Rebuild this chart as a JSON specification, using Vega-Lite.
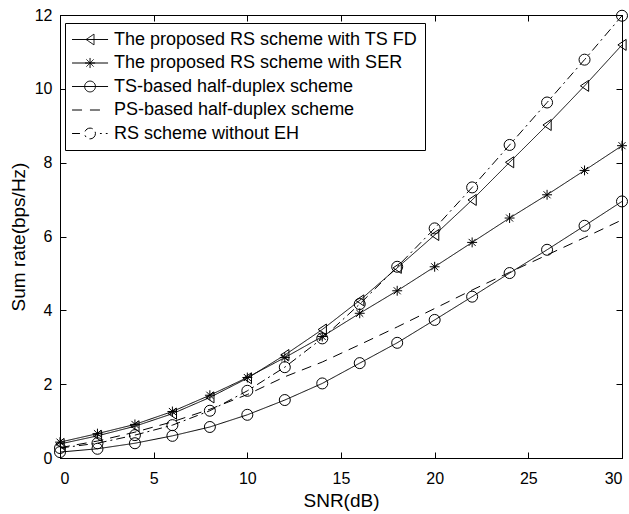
{
  "$schema": "https://vega.github.io/schema/vega-lite/v6.json",
  "width": 562,
  "height": 443,
  "autosize": "none",
  "padding": {"left": 60, "top": 15, "right": 7, "bottom": 56},
  "background": "white",
  "config": {
    "view": {"stroke": "black", "strokeWidth": 1},
    "font": "Liberation Sans",
    "axis": {
      "grid": false,
      "domainColor": "black",
      "tickColor": "black",
      "labelColor": "black",
      "titleColor": "black",
      "labelFont": "Liberation Sans",
      "titleFont": "Liberation Sans",
      "labelFontSize": 16,
      "titleFontSize": 19,
      "titleFontWeight": "normal",
      "tickSize": -6
    },
    "legend": {
      "labelFont": "Liberation Sans",
      "labelFontSize": 18,
      "labelColor": "black",
      "labelLimit": 0
    }
  },
  "resolve": {"axis": {"x": "independent", "y": "independent"}},
  "data": {
    "values": [
      {"snr": 0, "The proposed RS scheme with TS FD": 0.38, "The proposed RS scheme with SER": 0.43, "TS-based half-duplex scheme": 0.16, "PS-based half-duplex scheme": 0.28, "RS scheme without EH": 0.27},
      {"snr": 2, "The proposed RS scheme with TS FD": 0.6, "The proposed RS scheme with SER": 0.66, "TS-based half-duplex scheme": 0.25, "PS-based half-duplex scheme": 0.46, "RS scheme without EH": 0.4},
      {"snr": 4, "The proposed RS scheme with TS FD": 0.86, "The proposed RS scheme with SER": 0.91, "TS-based half-duplex scheme": 0.4, "PS-based half-duplex scheme": 0.7, "RS scheme without EH": 0.62},
      {"snr": 6, "The proposed RS scheme with TS FD": 1.2, "The proposed RS scheme with SER": 1.26, "TS-based half-duplex scheme": 0.6, "PS-based half-duplex scheme": 0.98, "RS scheme without EH": 0.89},
      {"snr": 8, "The proposed RS scheme with TS FD": 1.64, "The proposed RS scheme with SER": 1.7, "TS-based half-duplex scheme": 0.84, "PS-based half-duplex scheme": 1.32, "RS scheme without EH": 1.28},
      {"snr": 10, "The proposed RS scheme with TS FD": 2.16, "The proposed RS scheme with SER": 2.18, "TS-based half-duplex scheme": 1.17, "PS-based half-duplex scheme": 1.72, "RS scheme without EH": 1.82},
      {"snr": 12, "The proposed RS scheme with TS FD": 2.79, "The proposed RS scheme with SER": 2.72, "TS-based half-duplex scheme": 1.57, "PS-based half-duplex scheme": 2.2, "RS scheme without EH": 2.46},
      {"snr": 14, "The proposed RS scheme with TS FD": 3.48, "The proposed RS scheme with SER": 3.29, "TS-based half-duplex scheme": 2.02, "PS-based half-duplex scheme": 2.6, "RS scheme without EH": 3.24},
      {"snr": 16, "The proposed RS scheme with TS FD": 4.27, "The proposed RS scheme with SER": 3.92, "TS-based half-duplex scheme": 2.57, "PS-based half-duplex scheme": 3.07, "RS scheme without EH": 4.17},
      {"snr": 18, "The proposed RS scheme with TS FD": 5.15, "The proposed RS scheme with SER": 4.53, "TS-based half-duplex scheme": 3.12, "PS-based half-duplex scheme": 3.55, "RS scheme without EH": 5.18},
      {"snr": 20, "The proposed RS scheme with TS FD": 6.04, "The proposed RS scheme with SER": 5.18, "TS-based half-duplex scheme": 3.74, "PS-based half-duplex scheme": 4.05, "RS scheme without EH": 6.22},
      {"snr": 22, "The proposed RS scheme with TS FD": 6.99, "The proposed RS scheme with SER": 5.84, "TS-based half-duplex scheme": 4.37, "PS-based half-duplex scheme": 4.55, "RS scheme without EH": 7.33},
      {"snr": 24, "The proposed RS scheme with TS FD": 8.01, "The proposed RS scheme with SER": 6.5, "TS-based half-duplex scheme": 5.01, "PS-based half-duplex scheme": 5.03, "RS scheme without EH": 8.48},
      {"snr": 26, "The proposed RS scheme with TS FD": 9.02, "The proposed RS scheme with SER": 7.13, "TS-based half-duplex scheme": 5.64, "PS-based half-duplex scheme": 5.5, "RS scheme without EH": 9.63},
      {"snr": 28, "The proposed RS scheme with TS FD": 10.08, "The proposed RS scheme with SER": 7.79, "TS-based half-duplex scheme": 6.29, "PS-based half-duplex scheme": 5.97, "RS scheme without EH": 10.79},
      {"snr": 30, "The proposed RS scheme with TS FD": 11.19, "The proposed RS scheme with SER": 8.46, "TS-based half-duplex scheme": 6.95, "PS-based half-duplex scheme": 6.45, "RS scheme without EH": 11.98}
    ]
  },
  "transform": [
    {"fold": ["The proposed RS scheme with TS FD", "The proposed RS scheme with SER", "TS-based half-duplex scheme", "PS-based half-duplex scheme", "RS scheme without EH"], "as": ["series", "rate"]}
  ],
  "layer": [
    {
      "mark": {"type": "line", "color": "black", "strokeWidth": 1, "clip": true},
      "encoding": {
        "x": {"field": "snr", "type": "quantitative", "scale": {"domain": [0, 30], "nice": false}, "axis": {"orient": "bottom", "title": "SNR(dB)", "values": [0, 5, 10, 15, 20, 25, 30], "labelPadding": 18, "titlePadding": 5}},
        "y": {"field": "rate", "type": "quantitative", "scale": {"domain": [0, 12], "nice": false}, "axis": {"orient": "left", "title": "Sum rate(bps/Hz)", "values": [0, 2, 4, 6, 8, 10, 12], "labelPadding": 14, "titlePadding": 6}},
        "strokeDash": {
          "field": "series",
          "type": "nominal",
          "scale": {
            "domain": ["The proposed RS scheme with TS FD", "The proposed RS scheme with SER", "TS-based half-duplex scheme", "PS-based half-duplex scheme", "RS scheme without EH"],
            "range": [[1, 0], [1, 0], [1, 0], [10, 7], [9, 4, 2, 4]]
          },
          "legend": {
            "title": null,
            "orient": "none",
            "legendX": 5,
            "legendY": 8,
            "strokeColor": "black",
            "fillColor": "white",
            "padding": 7,
            "rowPadding": 4.5,
            "symbolSize": 324,
            "symbolStrokeWidth": 1,
            "symbolStrokeColor": "black",
            "symbolFillColor": "transparent",
            "labelOffset": 23,
            "encode": {
              "symbols": {
                "update": {
                  "strokeDash": {"value": [1, 0]},
                  "stroke": {"value": "black"},
                  "fill": {"value": "transparent"},
                  "shape": {"signal": "datum.index == 0 ? 'M-1.05,0L2.95,0M0.51,0L1.39,-0.6L1.39,0.6Z' : datum.index == 1 ? 'M-1.05,0L2.95,0M0.39,0L1.51,0M0.95,-0.56L0.95,0.56M0.55,-0.4L1.35,0.4M0.55,0.4L1.35,-0.4' : datum.index == 2 ? 'M-1.05,0L2.95,0M1.55,0A0.6,0.6 0 1,1 0.35,0A0.6,0.6 0 1,1 1.55,0' : datum.index == 3 ? 'M-1.05,0L0.06,0M0.94,0L2.39,0' : 'M-1.05,0L-0.17,0M1.55,0A0.6,0.6 0 1,1 0.35,0A0.6,0.6 0 1,1 1.55,0M2.05,0L2.25,0M2.7,0L2.9,0'"}
                }
              }
            }
          }
        },
        "detail": {"field": "series"}
      }
    },
    {
      "transform": [{"filter": "datum.series != 'PS-based half-duplex scheme'"}],
      "mark": {"type": "point", "filled": false, "stroke": "black", "strokeWidth": 1, "size": 121, "opacity": 1, "clip": false},
      "encoding": {
        "x": {"field": "snr", "type": "quantitative", "axis": {"orient": "top", "title": null, "labels": false, "values": [0, 5, 10, 15, 20, 25, 30]}},
        "y": {"field": "rate", "type": "quantitative", "axis": {"orient": "right", "title": null, "labels": false, "values": [0, 2, 4, 6, 8, 10, 12]}},
        "shape": {
          "field": "series",
          "type": "nominal",
          "scale": {
            "domain": ["The proposed RS scheme with TS FD", "The proposed RS scheme with SER", "TS-based half-duplex scheme", "RS scheme without EH"],
            "range": ["M-0.75,0L0.75,-1L0.75,1Z", "M-0.9,0L0.9,0M0,-0.9L0,0.9M-0.64,-0.64L0.64,0.64M-0.64,0.64L0.64,-0.64", "circle", "circle"]
          },
          "legend": null
        }
      }
    }
  ]
}
